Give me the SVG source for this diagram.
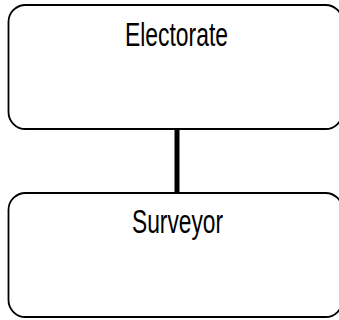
<svg xmlns="http://www.w3.org/2000/svg" width="339" height="320" viewBox="0 0 339 320">
<style>
.box{fill:#fff;stroke:#000;stroke-width:1.8}
.lbl{font-family:"Liberation Sans Narrow","Liberation Sans",sans-serif;font-size:33px;fill:#000;text-anchor:middle}
.conn{stroke:#000;stroke-width:5;fill:none}
</style>
<rect width="339" height="320" fill="#fff"/>
<g id="connectors">
<line class="conn" x1="177" y1="129" x2="177" y2="193"/>
</g>
<g id="electorate">
<rect class="box" x="8.5" y="5" width="334" height="124" rx="17" ry="17"/>
<text class="lbl" x="176.5" y="46" textLength="103" lengthAdjust="spacingAndGlyphs">Electorate</text>
</g>
<g id="surveyor">
<rect class="box" x="8.5" y="193" width="334" height="124" rx="17" ry="17"/>
<text class="lbl" x="177.5" y="233" textLength="91" lengthAdjust="spacingAndGlyphs">Surveyor</text>
</g>
</svg>
